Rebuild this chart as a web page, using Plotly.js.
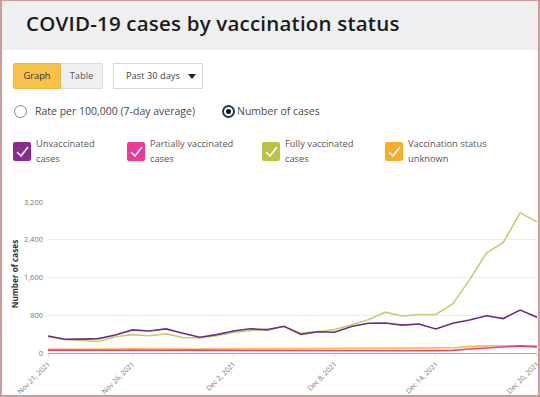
<!DOCTYPE html>
<html><head><meta charset="utf-8">
<script src="https://cdn.plot.ly/plotly-3.0.1.min.js"></script>
<style>
html,body{margin:0;padding:0;width:540px;height:397px;overflow:hidden;background:#fff;font-family:"Open Sans",sans-serif;}
#frame{position:absolute;left:0;top:0;width:540px;height:397px;box-sizing:border-box;border:2px solid #cf9a9a;border-top:1px solid #cf9a9a;pointer-events:none;z-index:10}
#header{position:absolute;left:2px;top:0;width:536px;height:50px;background:#efefef;}
#title{position:absolute;left:24px;top:9px;font-size:20.5px;font-weight:600;color:#1b1b1b;white-space:nowrap;letter-spacing:0.2px}
.btn{position:absolute;top:63px;height:26px;box-sizing:border-box;font-size:9.3px;color:#333;line-height:24px;text-align:center}
#graph{left:13px;width:48px;background:#f8c24a;border:1px solid #f0b93e;border-radius:2px 0 0 2px}
#table{left:61px;width:42px;background:#efefef;border:1px solid #dcdcdc;border-left:none;border-radius:0 2px 2px 0;color:#555}
#period{left:113px;width:90px;background:#fff;border:1px solid #d8d8d8;text-align:left;padding-left:12px;color:#444}
#period .tri{position:absolute;left:74px;top:10px;width:0;height:0;border-left:4.5px solid transparent;border-right:4.5px solid transparent;border-top:5px solid #222}
.radio{position:absolute;top:105px;width:13px;height:13px;box-sizing:border-box;border-radius:50%;border:1px solid #888;background:#fff}
#r2{border:2px solid #1d3a46}
#r2 .dot{position:absolute;left:2px;top:2px;width:5px;height:5px;border-radius:50%;background:#111}
.rlab{position:absolute;top:104px;font-size:10.5px;color:#4a4a4a;white-space:nowrap}
.cb{position:absolute;top:142px;width:18px;height:19px;border-radius:2px}
.cb svg{position:absolute;left:0;top:0}
.lab{position:absolute;top:137px;font-size:9.3px;line-height:14.7px;color:#555;white-space:nowrap}
#chart{position:absolute;left:0;top:180px;width:540px;height:217px}
</style>
</head><body>
<div id="header"><div id="title">COVID-19 cases by vaccination status</div></div>
<div class="btn" id="graph">Graph</div>
<div class="btn" id="table">Table</div>
<div class="btn" id="period">Past 30 days<span class="tri"></span></div>
<div class="radio" id="r1" style="left:14px"></div>
<div class="rlab" style="left:35px">Rate per 100,000 (7-day average)</div>
<div class="radio" id="r2" style="left:222px"><div class="dot"></div></div>
<div class="rlab" style="left:237px">Number of cases</div>
<div id="legend"></div>
<div id="chart"></div>
<div id="frame"></div>
<script>
// ---- data ----
var dates = ['2021-11-21','2021-11-22','2021-11-23','2021-11-24','2021-11-25','2021-11-26','2021-11-27','2021-11-28','2021-11-29','2021-11-30',
             '2021-12-01','2021-12-02','2021-12-03','2021-12-04','2021-12-05','2021-12-06','2021-12-07','2021-12-08','2021-12-09','2021-12-10',
             '2021-12-11','2021-12-12','2021-12-13','2021-12-14','2021-12-15','2021-12-16','2021-12-17','2021-12-18','2021-12-19','2021-12-20'];
var unvaccinated = [360,290,295,305,380,490,465,510,420,335,390,465,515,490,565,395,450,440,560,630,635,590,615,510,630,700,790,730,910,760];
var partially    = [60,58,55,58,60,62,60,58,60,55,55,55,52,52,50,50,50,48,48,45,45,48,48,50,55,85,110,125,150,130];
var fully        = [345,285,265,245,345,390,365,405,330,320,365,435,470,505,560,425,450,495,600,705,865,785,815,815,1040,1550,2120,2345,2970,2780];
var unknown      = [80,78,75,78,85,88,82,80,85,82,85,88,90,92,95,95,98,100,105,105,108,105,105,108,110,140,150,150,160,155];
var seriesNames  = [['Unvaccinated','cases'],['Partially vaccinated','cases'],['Fully vaccinated','cases'],['Vaccination status','unknown']];
var tickDates    = ['2021-11-21','2021-11-26','2021-12-02','2021-12-08','2021-12-14','2021-12-20'];
var tickLabels   = ['Nov 21, 2021','Nov 26, 2021','Dec 2, 2021','Dec 8, 2021','Dec 14, 2021','Dec 20, 2021'];
var yTicks       = [0,800,1600,2400,3200];

// ---- legend (HTML checkboxes) ----
var boxColors = ['#8b2a8f','#e93a97','#b8c444','#f8ae2b'];
var boxLeft = [13,127,262,385];
var lg = document.getElementById('legend');
seriesNames.forEach(function(n,i){
  var b = document.createElement('div');
  b.className='cb'; b.style.left=boxLeft[i]+'px'; b.style.background=boxColors[i];
  b.innerHTML='<svg width="18" height="19"><polyline points="4,10 8,14 15,5" fill="none" stroke="#fff" stroke-width="1.6"/></svg>';
  lg.appendChild(b);
  var t = document.createElement('div');
  t.className='lab'; t.style.left=(boxLeft[i]+23)+'px';
  t.innerHTML=n[0]+'<br>'+n[1];
  lg.appendChild(t);
});

// ---- chart ----
var lineColors = ['#6c2c80','#e4457e','#c6ce6c','#f7bf52'];
var data = [
  {x:dates, y:unknown, name:'Vaccination status unknown', line:{color:lineColors[3]}},
  {x:dates, y:partially, name:'Partially vaccinated cases', line:{color:lineColors[1]}},
  {x:dates, y:fully, name:'Fully vaccinated cases', line:{color:lineColors[2]}},
  {x:dates, y:unvaccinated, name:'Unvaccinated cases', line:{color:lineColors[0]}}
].map(function(t){t.type='scatter';t.mode='lines';t.line.width=1.6;t.hoverinfo='none';return t;});

var layout = {
  width:540, height:217,
  margin:{l:48,r:3,t:22,b:44,pad:0},
  paper_bgcolor:'rgba(0,0,0,0)', plot_bgcolor:'#fff',
  showlegend:false,
  font:{family:'Open Sans, sans-serif', color:'#777'},
  xaxis:{type:'date', range:['2021-11-21','2021-12-20'], tickvals:tickDates, ticktext:tickLabels,
         tickangle:-45, tickfont:{size:7,color:'#777'}, showgrid:false, zeroline:false, ticklabeloverflow:'allow',
         showline:true, linecolor:'#a9a9a9', linewidth:1.2, ticks:'outside', ticklen:3, tickcolor:'#ddd',
         ticklabelstandoff:0, automargin:false, fixedrange:true},
  yaxis:{range:[0,3200], tickvals:yTicks, tickformat:',d', tickfont:{size:7.5,color:'#777'},
         showgrid:true, gridcolor:'#ececec', gridwidth:1, zeroline:false, showline:false, ticks:'', ticklabelstandoff:4,
         automargin:false, fixedrange:true},
  annotations:[{text:'<b>Number of cases</b>', xref:'paper', yref:'paper', x:-0.068, y:0.52, xanchor:'center', yanchor:'middle',
                textangle:-90, showarrow:false, font:{size:8.2,color:'#333'}}]
};
Plotly.newPlot('chart', data, layout, {displayModeBar:false, staticPlot:true});
</script>
</body></html>
